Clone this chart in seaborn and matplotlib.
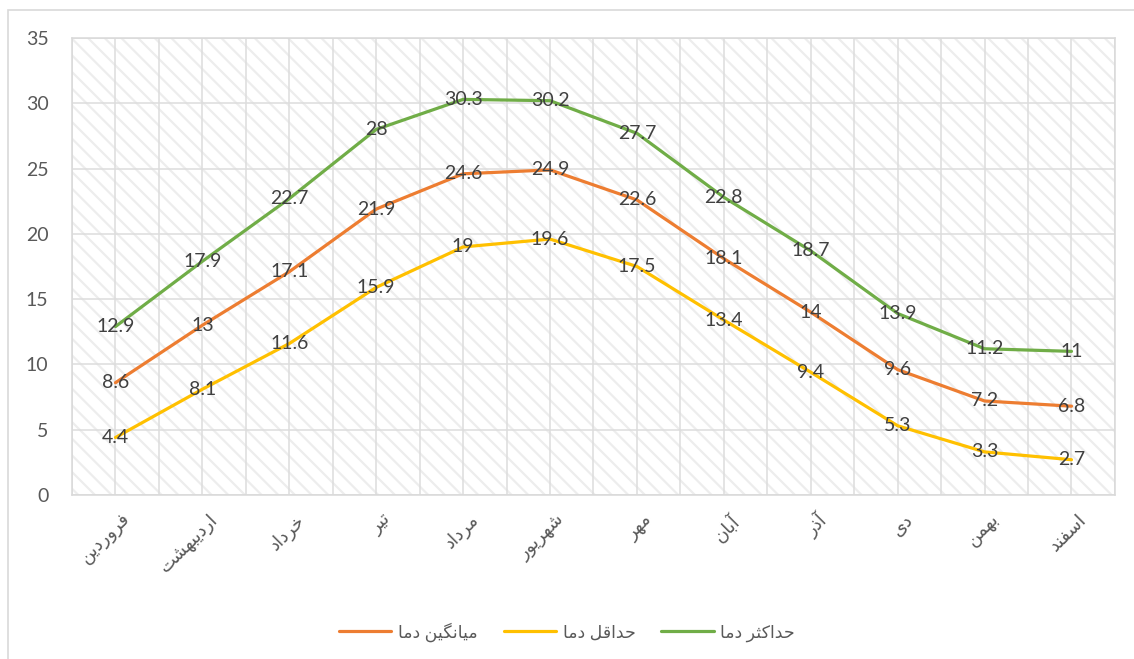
import matplotlib
matplotlib.use('Agg')
import matplotlib.pyplot as plt
from matplotlib.patches import Rectangle
from matplotlib.transforms import ScaledTranslation
import numpy as np
import pandas as pd
import seaborn as sns

# Monthly temperatures (Persian calendar months)
months = ['فروردین', 'اردیبهشت', 'خرداد', 'تیر', 'مرداد', 'شهریور',
          'مهر', 'آبان', 'آذر', 'دی', 'بهمن', 'اسفند']
avg_temp = [8.6, 13, 17.1, 21.9, 24.6, 24.9, 22.6, 18.1, 14, 9.6, 7.2, 6.8]
min_temp = [4.4, 8.1, 11.6, 15.9, 19, 19.6, 17.5, 13.4, 9.4, 5.3, 3.3, 2.7]
max_temp = [12.9, 17.9, 22.7, 28, 30.3, 30.2, 27.7, 22.8, 18.7, 13.9, 11.2, 11]
series_names = ['میانگین دما', 'حداقل دما', 'حداکثر دما']
series_colors = ['#ED7D31', '#FFC000', '#70AD47']
yticks = [0, 5, 10, 15, 20, 25, 30, 35]

# matplotlib does no arabic shaping/bidi, so pick presentation forms by hand
# forms: isolated, final, initial, medial
FORMS = {
    '\u0627': '\uFE8D\uFE8E',  # alef
    '\u0622': '\uFE81\uFE82',  # alef madda
    '\u062F': '\uFEA9\uFEAA',  # dal
    '\u0630': '\uFEAB\uFEAC',  # thal
    '\u0631': '\uFEAD\uFEAE',  # reh
    '\u0648': '\uFEED\uFEEE',  # waw
    '\u0628': '\uFE8F\uFE90\uFE91\uFE92',  # beh
    '\u062A': '\uFE95\uFE96\uFE97\uFE98',  # teh
    '\u062B': '\uFE99\uFE9A\uFE9B\uFE9C',  # theh
    '\u062D': '\uFEA1\uFEA2\uFEA3\uFEA4',  # hah
    '\u062E': '\uFEA5\uFEA6\uFEA7\uFEA8',  # khah
    '\u0633': '\uFEB1\uFEB2\uFEB3\uFEB4',  # seen
    '\u0634': '\uFEB5\uFEB6\uFEB7\uFEB8',  # sheen
    '\u0641': '\uFED1\uFED2\uFED3\uFED4',  # feh
    '\u0642': '\uFED5\uFED6\uFED7\uFED8',  # qaf
    '\u06A9': '\uFB8E\uFB8F\uFB90\uFB91',  # keheh
    '\u0643': '\uFB8E\uFB8F\uFB90\uFB91',
    '\u06AF': '\uFB92\uFB93\uFB94\uFB95',  # gaf
    '\u0644': '\uFEDD\uFEDE\uFEDF\uFEE0',  # lam
    '\u0645': '\uFEE1\uFEE2\uFEE3\uFEE4',  # meem
    '\u0646': '\uFEE5\uFEE6\uFEE7\uFEE8',  # noon
    '\u0647': '\uFEE9\uFEEA\uFEEB\uFEEC',  # heh
    '\u06CC': '\uFBFC\uFBFD\uFBFE\uFBFF',  # farsi yeh
    '\u064A': '\uFBFC\uFBFD\uFBFE\uFBFF',
}


def shape(text):
    out = []
    for i, ch in enumerate(text):
        forms = FORMS.get(ch)
        if forms is None:
            out.append(ch)
            continue
        prev = text[i - 1] if i > 0 else ''
        nxt = text[i + 1] if i + 1 < len(text) else ''
        join_prev = len(FORMS.get(prev, '')) == 4
        join_next = len(forms) == 4 and nxt in FORMS
        if join_prev and join_next:
            out.append(forms[3])
        elif join_prev:
            out.append(forms[1])
        elif join_next:
            out.append(forms[2])
        else:
            out.append(forms[0])
    return ''.join(reversed(out))


# long-form data for seaborn
frames = []
for name, vals in zip(series_names, [avg_temp, min_temp, max_temp]):
    frames.append(pd.DataFrame({'pos': np.arange(len(months)), 'temp': vals,
                                'series': shape(name)}))
data = pd.concat(frames, ignore_index=True)

sns.set_style('white')
plt.rcParams['font.family'] = ['Lato', 'DejaVu Sans']
plt.rcParams['hatch.linewidth'] = 1.6

fig = plt.figure(figsize=(11.34, 6.59), dpi=100)
ax = fig.add_axes([0.0635, 0.2489, 0.9197, 0.6934])

# hatched plot area like the excel chart
ax.add_patch(Rectangle((0, 0), 1, 1, transform=ax.transAxes, facecolor='white',
                       edgecolor='#EDEDED', linewidth=0, hatch='\\\\', zorder=0))

palette = dict(zip([shape(n) for n in series_names], series_colors))
sns.lineplot(data=data, x='pos', y='temp', hue='series', palette=palette,
             linewidth=2.3, ax=ax, solid_capstyle='round')

for vals in [avg_temp, min_temp, max_temp]:
    for i, v in enumerate(vals):
        ax.text(i, v, f'{v:g}', ha='center', va='center', fontsize=14,
                color='#404040', zorder=5)

ax.set_xlim(-0.5, len(months) - 0.5)
ax.set_ylim(0, 35)
ax.set_yticks(yticks)
ax.set_xticks(np.arange(len(months)))
ax.set_xticks(np.arange(-0.5, len(months), 1), minor=True)
ax.set_xticklabels([shape(m) for m in months], rotation=45, ha='right',
                   va='center', rotation_mode='anchor', fontsize=13,
                   color='#595959')
ax.tick_params(axis='y', labelsize=14, labelcolor='#595959', pad=17, length=0)
ax.tick_params(axis='x', which='both', length=0, pad=14)
# nudge month labels a little right, like excel places them
shift = ScaledTranslation(9 / 72, -2 / 72, fig.dpi_scale_trans)
for lbl in ax.get_xticklabels():
    lbl.set_transform(lbl.get_transform() + shift)
ax.set_axisbelow(True)
ax.grid(True, which='both', axis='x', color='#DDDDDD', linewidth=1.1)
ax.grid(True, which='major', axis='y', color='#DDDDDD', linewidth=1.1)
for sp in ax.spines.values():
    sp.set_color('#D9D9D9')
    sp.set_linewidth(1.1)
ax.set(xlabel='', ylabel='')

handles, labels = ax.get_legend_handles_labels()
ax.legend(handles=handles, labels=labels, ncol=3, frameon=False,
          loc='center', bbox_to_anchor=(0.5, 0.041),
          bbox_transform=fig.transFigure, fontsize=12.5, handlelength=3.0,
          columnspacing=1.5, handletextpad=0.4, labelcolor='#595959')

# chart area border (cut off at the right and bottom in the original)
fig.add_artist(Rectangle((0.007, -0.1), 1.1, 0.985 + 0.1,
                         transform=fig.transFigure, fill=False,
                         edgecolor='#D9D9D9', linewidth=1.2))

fig.savefig('out.png', dpi=100)
